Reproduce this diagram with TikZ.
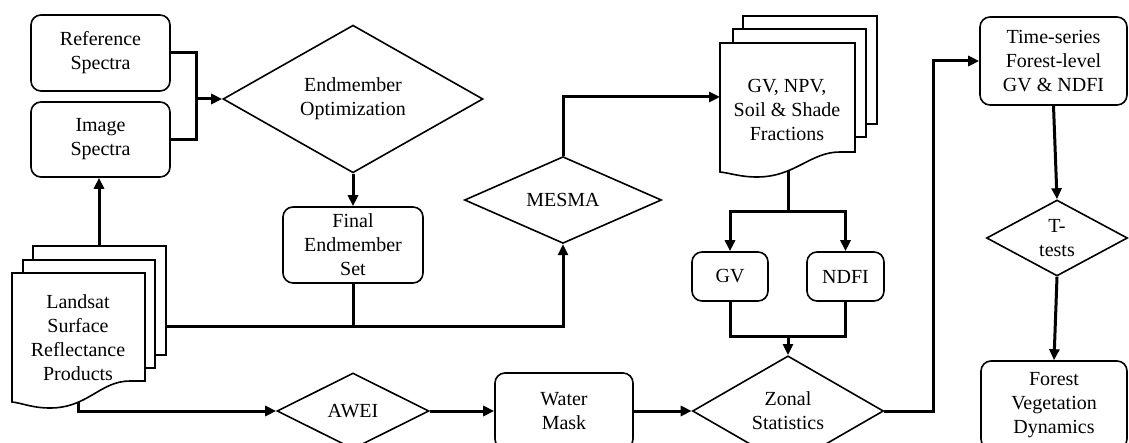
\documentclass[tikz,border=0pt]{standalone}
\usepackage{fontspec}
\setmainfont{Liberation Serif}
\usetikzlibrary{shapes.geometric,arrows.meta}
\begin{document}
\begin{tikzpicture}[x=1pt,y=-1pt,
  txt/.style={font=\fontsize{20}{24}\selectfont, align=center},
  box/.style={txt, draw, line width=1.6pt, rounded corners=10pt, inner sep=0pt},
  dia/.style={txt, draw, diamond, line width=1.6pt, inner sep=0pt},
  page/.style={draw, fill=white, line width=1.6pt},
  conn/.style={line width=3pt},
  arr/.style={conn, -{Triangle[length=11pt,width=10pt]}}]
\useasboundingbox (0,0) rectangle (1129,443);
\clip (0,0) rectangle (1129,443);

% boxes
\node[box, minimum width=139pt, minimum height=76pt] (ref) at (100.5,53) {Reference\\Spectra};
\node[box, minimum width=139pt, minimum height=75pt] (img) at (100.5,139.5) {Image\\Spectra};
\node[box, minimum width=140pt, minimum height=76pt] (final) at (353,245) {Final\\Endmember\\Set};
\node[box, minimum width=76pt, minimum height=49pt] (gv) at (730,276.5) {GV};
\node[box, minimum width=77pt, minimum height=49pt] (ndfi) at (845.5,276.5) {NDFI};
\node[box, minimum width=138pt, minimum height=76pt] (water) at (564,411) {Water\\Mask};
\node[box, minimum width=147pt, minimum height=88pt] (time) at (1053.5,61) {Time-series\\Forest-level\\GV \& NDFI};
\node[box, minimum width=146pt, minimum height=88pt] (forest) at (1054,405) {Forest\\Vegetation\\Dynamics};

% diamonds
\node[dia, minimum width=260pt, minimum height=130pt] (endm) at (353,99) {Endmember\\Optimization};
\node[dia, minimum width=197pt, minimum height=70pt] (mesma) at (563,200) {MESMA};
\node[dia, minimum width=152pt, minimum height=76pt] (awei) at (353,411) {AWEI};
\node[dia, minimum width=191pt, minimum height=74pt] (zonal) at (788,411) {Zonal\\Statistics};
\node[dia, minimum width=141pt, minimum height=76pt] (ttest) at (1057,238) {T-\\tests};

% Landsat document stack
\draw[page] (33,246) rectangle (166,355);
\draw[page] (23,260) rectangle (155,368);
\draw[page] (12,273) -- (145,273) -- (145,381) -- (130,381)
  .. controls (100,381) and (88,408) .. (50,408)
  .. controls (32,408) and (22,403) .. (12,402) -- cycle;
\node[txt] (ls) at (78,338) {Landsat\\Surface\\Reflectance\\Products};
\coordinate (lsTop) at (99,246);
\coordinate (lsRight) at (166,327);
\coordinate (lsBottom) at (78,402);

% fractions document stack
\draw[page] (743,16) rectangle (877,124);
\draw[page] (733,29) rectangle (866,137);
\draw[page] (720,43) -- (855,43) -- (855,152) -- (840,152)
  .. controls (810,152) and (795,177) .. (757,177)
  .. controls (740,177) and (730,173) .. (720,172) -- cycle;
\node[txt] (frac) at (787,110) {GV, NPV,\\Soil \& Shade\\Fractions};
\coordinate (fracLeft) at (720,97);
\coordinate (fracBottom) at (788,171);

% connectors
\coordinate (j1) at (196,99);
\draw[conn] (ref.east) -| (j1) |- (img.east);
\draw[arr] (j1) -- (endm.west);
\draw[arr] (lsTop) -- (lsTop |- img.south);
\draw[arr] (endm.south) -- (final.north);
\coordinate (j2) at (563,327);
\draw[arr] (lsRight) -- (j2) -- (mesma.south);
\draw[conn] (final.south) -- (final.south |- j2);
\draw[arr] (mesma.north) |- (fracLeft);
\coordinate (j3) at (788,212);
\draw[conn] (fracBottom) -- (j3);
\draw[arr] (j3) -| (gv.north);
\draw[arr] (j3) -| (ndfi.north);
\coordinate (j4) at (788,337);
\draw[conn] (gv.south) |- (j4) -| (ndfi.south);
\draw[arr] (j4) -- (zonal.north);
\draw[arr] (lsBottom) |- (awei.west);
\draw[arr] (awei.east) -- (water.west);
\draw[arr] (water.east) -- (zonal.west);
\coordinate (j5) at (933,411);
\draw[arr] (zonal.east) -- (j5) |- (time.west);
\draw[arr] (time.south) -- (ttest.north);
\draw[arr] (ttest.south) -- (forest.north);
\end{tikzpicture}
\end{document}
